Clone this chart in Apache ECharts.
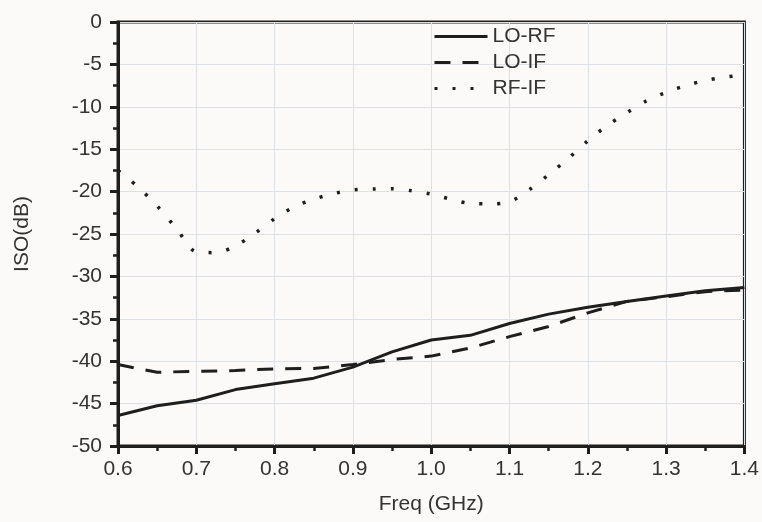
<!DOCTYPE html>
<html>
<head>
<meta charset="utf-8">
<script src="https://cdn.jsdelivr.net/npm/echarts@6/dist/echarts.min.js"></script>
<style>
html,body{margin:0;padding:0;background:#fcfaf8;}
#chart{width:762px;height:522px;}
</style>
</head>
<body>
<div id="chart"></div>
<script>
// Data
const freqCoarse = [0.6,0.65,0.7,0.75,0.8,0.85,0.9,0.95,1.0,1.05,1.1,1.15,1.2,1.25,1.3,1.35,1.4];
const loRF = [-46.4,-45.25,-44.6,-43.35,-42.65,-42.0,-40.7,-38.9,-37.5,-36.95,-35.55,-34.45,-33.65,-32.95,-32.3,-31.7,-31.3];
const loIF = [-40.4,-41.3,-41.2,-41.1,-40.9,-40.85,-40.4,-39.8,-39.4,-38.45,-37.1,-35.9,-34.3,-32.95,-32.4,-31.8,-31.6];
const freqFine = [0.6,0.625,0.65,0.675,0.7,0.725,0.75,0.775,0.8,0.825,0.85,0.875,0.9,0.925,0.95,0.975,1.0,1.025,1.05,1.075,1.1,1.125,1.15,1.175,1.2,1.225,1.25,1.275,1.3,1.325,1.35,1.375,1.4];
const rfIF = [-17.5,-19.4,-21.7,-24.4,-27.1,-27.2,-26.4,-24.9,-23.2,-21.8,-20.9,-20.25,-19.8,-19.7,-19.65,-19.9,-20.3,-20.9,-21.4,-21.45,-21.2,-19.8,-18.0,-16.1,-14.0,-12.2,-10.7,-9.3,-8.3,-7.5,-6.9,-6.5,-6.25];
const seriesNames = ['LO-RF','LO-IF','RF-IF'];
const xTicks = [0.6,0.7,0.8,0.9,1.0,1.1,1.2,1.3,1.4];
const yTicks = [0,-5,-10,-15,-20,-25,-30,-35,-40,-45,-50];

const pair = (xs, ys) => xs.map((x, i) => [x, ys[i]]);
const font = 'Arial, "Liberation Sans", sans-serif';
const ink = '#1e1e1e';

const chart = echarts.init(document.getElementById('chart'), null, {renderer: 'canvas'});
chart.setOption({
  backgroundColor: '#fcfaf8',
  animation: false,
  grid: {left: 118, right: 12, top: 22, bottom: 76, show: true, borderColor: ink, borderWidth: 3, backgroundColor: 'transparent', containLabel: false},
  legend: {
    orient: 'vertical', left: 433, top: 26, padding: 0,
    itemWidth: 53, itemHeight: 20, itemGap: 5,
    itemStyle: {opacity: 0},
    lineStyle: {width: 3},
    textStyle: {fontFamily: font, fontSize: 21, color: '#333'},
    data: seriesNames
  },
  xAxis: {
    type: 'value', min: xTicks[0], max: xTicks[xTicks.length - 1], interval: 0.1,
    name: 'Freq (GHz)', nameLocation: 'middle', nameGap: 48,
    nameTextStyle: {fontFamily: font, fontSize: 21, color: '#333'},
    axisLine: {show: true, onZero: false, lineStyle: {color: ink, width: 3}},
    axisTick: {show: true, length: 8, lineStyle: {color: ink, width: 3}},
    minorTick: {show: true, splitNumber: 2, length: 5, lineStyle: {color: ink, width: 2.5}},
    axisLabel: {fontFamily: font, fontSize: 21, color: '#333', margin: 13, formatter: v => v.toFixed(1)},
    splitLine: {show: true, lineStyle: {color: '#dde1e6', width: 1}}
  },
  yAxis: {
    type: 'value', min: yTicks[yTicks.length - 1], max: yTicks[0], interval: 5,
    name: 'ISO(dB)', nameLocation: 'middle', nameGap: 85, nameRotate: 90,
    nameTextStyle: {fontFamily: font, fontSize: 21, color: '#333'},
    axisLine: {show: true, onZero: false, lineStyle: {color: ink, width: 3}},
    axisTick: {show: true, length: 8, lineStyle: {color: ink, width: 3}},
    minorTick: {show: true, splitNumber: 2, length: 5, lineStyle: {color: ink, width: 2.5}},
    axisLabel: {fontFamily: font, fontSize: 21, color: '#333', margin: 16},
    splitLine: {show: true, lineStyle: {color: '#dde1e6', width: 1}}
  },
  series: [
    {name: seriesNames[0], type: 'line', data: pair(freqCoarse, loRF), symbol: 'none', z: 5,
     lineStyle: {color: ink, width: 3}, itemStyle: {color: ink}},
    {name: seriesNames[1], type: 'line', data: pair(freqCoarse, loIF), symbol: 'none', z: 4,
     lineStyle: {color: ink, width: 3, type: [16, 12]}, itemStyle: {color: ink}},
    {name: seriesNames[2], type: 'line', data: pair(freqFine, rfIF), symbol: 'none', smooth: 0.3, z: 4,
     lineStyle: {color: ink, width: 3.5, type: [3, 15]}, itemStyle: {color: ink}}
  ]
});
</script>
</body>
</html>
